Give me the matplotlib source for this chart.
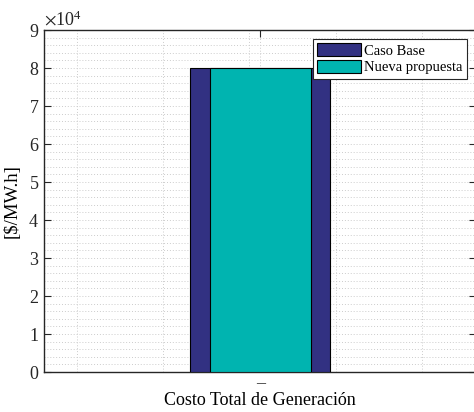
import numpy as np
import matplotlib.pyplot as plt
from matplotlib.ticker import MultipleLocator, FixedLocator

plt.rcParams['font.family'] = ['Liberation Serif', 'DejaVu Serif']
plt.rcParams['mathtext.fontset'] = 'stix'

# data
categories = ['–']
series_names = ['Caso Base', 'Nueva propuesta']
caso_base = [80000]
nueva_propuesta = [80000]
colors = ['#323182', '#00B4B0']

fig = plt.figure(figsize=(4.74, 4.12), dpi=100)
ax = fig.add_axes([0.093, 0.097, 0.912, 0.830])

x = np.arange(1, len(categories) + 1)
ax.bar(x, caso_base, width=0.324, color=colors[0], edgecolor='black',
       linewidth=0.8, label=series_names[0], zorder=3)
ax.bar(x, nueva_propuesta, width=0.234, color=colors[1], edgecolor='black',
       linewidth=0.8, label=series_names[1], zorder=3)

ax.set_xlim(0.5, 1.5)
ax.set_ylim(0, 90000)
ax.set_xticks(x)
ax.set_xticklabels(categories, fontsize=12)
ax.yaxis.set_major_locator(MultipleLocator(10000))
ax.yaxis.set_minor_locator(MultipleLocator(2000))
ax.xaxis.set_minor_locator(FixedLocator([0.575, 0.775, 0.975, 1.175, 1.375]))
ax.ticklabel_format(axis='y', style='sci', scilimits=(0, 0), useMathText=True)
ax.yaxis.get_offset_text().set_fontsize(13)

ax.tick_params(which='major', direction='in', length=5, width=0.8,
               top=True, right=True, labelsize=13, colors='#262626')
ax.tick_params(axis='x', which='major', pad=2)
ax.tick_params(which='minor', length=0, top=True, right=True)
ax.grid(True, which='both', linestyle=(0, (1, 2)), color='#cccccc',
        linewidth=0.7, zorder=0)
ax.set_axisbelow(True)
for sp in ax.spines.values():
    sp.set_color('#262626')
    sp.set_linewidth(1.0)

ax.set_ylabel('[$/MW.h]', fontsize=13.5, labelpad=6)
ax.set_xlabel('Costo Total de Generación', fontsize=13, labelpad=0)

leg = ax.legend(loc='upper right', bbox_to_anchor=(0.978, 0.975), fontsize=10.5,
                fancybox=False, edgecolor='#262626', framealpha=1,
                handlelength=3.0, handleheight=1.0, handletextpad=0.2,
                borderpad=0.3, labelspacing=0.15, borderaxespad=0.0)
leg.get_frame().set_linewidth(0.8)

fig.savefig('out.png', dpi=100)
